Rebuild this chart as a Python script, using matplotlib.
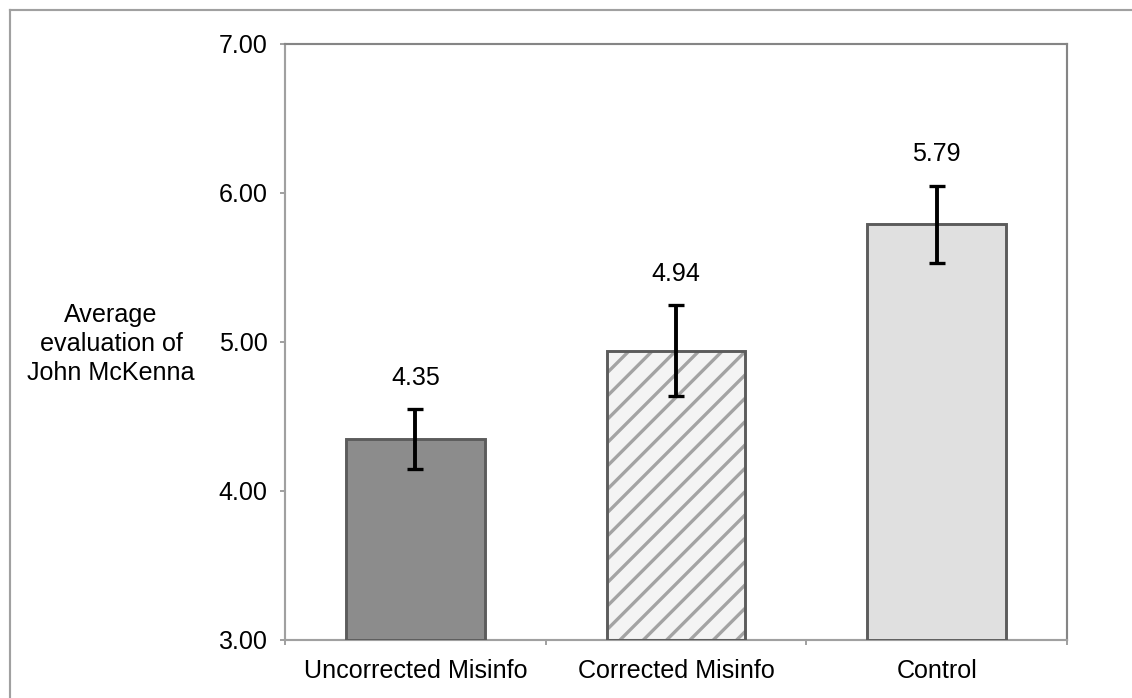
import matplotlib.pyplot as plt
from matplotlib.lines import Line2D

categories = ["Uncorrected Misinfo", "Corrected Misinfo", "Control"]
means = [4.35, 4.94, 5.79]
errors = [0.20, 0.305, 0.26]
yticks = [3.0, 4.0, 5.0, 6.0, 7.0]

plt.rcParams['font.family'] = ['Liberation Sans', 'DejaVu Sans']
plt.rcParams['font.size'] = 12.9
plt.rcParams['hatch.linewidth'] = 1.7

fig = plt.figure(figsize=(1132 / 140, 698 / 140), dpi=140)
ax = fig.add_axes([0.2518, 0.0831, 0.6908, 0.8539])

x = list(range(len(categories)))
fills = ['#8c8c8c', '#f4f4f4', '#e0e0e0']
for i in x:
    if i == 1:
        # hatched fill first, then the outline on top
        ax.bar(i, means[i] - 3, bottom=3, width=0.533, color=fills[i],
               edgecolor='#a3a3a3', hatch='//', linewidth=0, zorder=2)
        ax.bar(i, means[i] - 3, bottom=3, width=0.533, facecolor='none',
               edgecolor='#5c5c5c', linewidth=1.5, zorder=3)
    else:
        ax.bar(i, means[i] - 3, bottom=3, width=0.533, color=fills[i],
               edgecolor='#5c5c5c', linewidth=1.5, zorder=3)

ax.errorbar(x, means, yerr=errors, fmt='none', ecolor='black',
            elinewidth=2.0, capsize=3.9, capthick=1.7, zorder=4)

for i in x:
    ax.annotate(f"{means[i]:.2f}", (i, means[i] + errors[i]),
                xytext=(0, 16), textcoords='offset points',
                ha='center', va='center')

ax.set_xlim(-0.5, 2.5)
ax.set_ylim(3, 7)
ax.set_yticks(yticks)
ax.set_yticklabels([f"{v:.2f}" for v in yticks])
ax.set_xticks(x)
ax.set_xticklabels(categories)
ax.set_xticks([-0.5, 0.5, 1.5, 2.5], minor=True)
ax.tick_params(axis='x', which='major', length=0, pad=10)
ax.tick_params(axis='x', which='minor', length=2.6, width=1, color='#a0a0a0')
ax.tick_params(axis='y', length=2.6, width=1, color='#a0a0a0', pad=6.5)

for s in ['left', 'bottom']:
    ax.spines[s].set_color('#a0a0a0')
    ax.spines[s].set_linewidth(1.1)
for s in ['top', 'right']:
    ax.spines[s].set_color('#858585')
    ax.spines[s].set_linewidth(1.1)

fig.text(111 / 1132, 1 - 344 / 698, "Average\nevaluation of\nJohn McKenna",
         ha='center', va='center', linespacing=1.25)

# outer chart border (only left and top edges visible)
fig.add_artist(Line2D([10 / 1132, 10 / 1132], [0, 1 - 10 / 698],
                      transform=fig.transFigure, color='#a0a0a0', linewidth=1.1))
fig.add_artist(Line2D([10 / 1132, 1], [1 - 10 / 698, 1 - 10 / 698],
                      transform=fig.transFigure, color='#a0a0a0', linewidth=1.1))

fig.savefig("out.png", dpi=140)
